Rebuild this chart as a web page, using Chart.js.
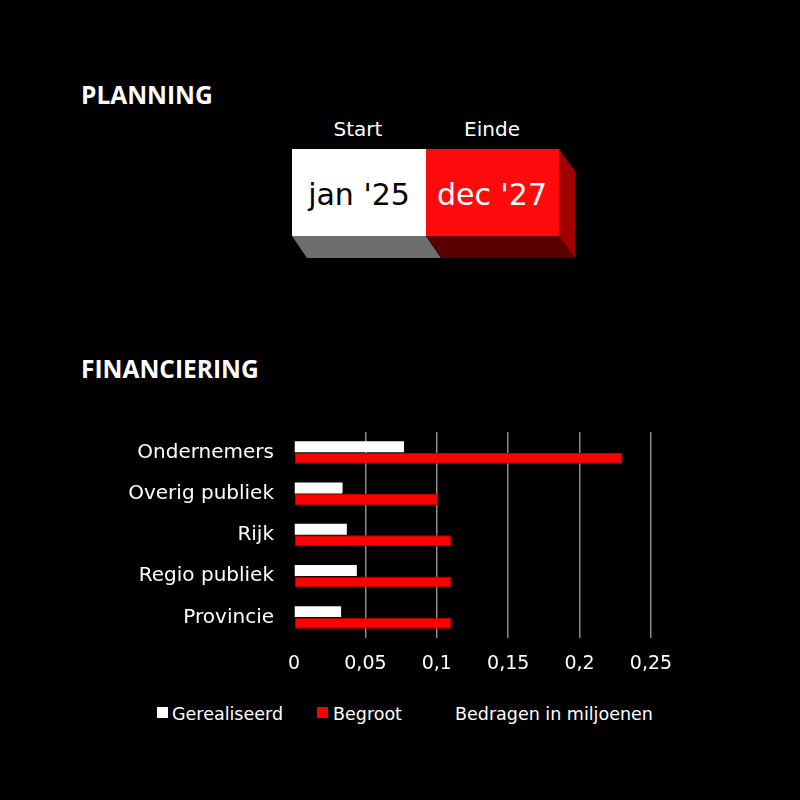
<!DOCTYPE html>
<html>
<head>
<meta charset="utf-8">
<script src="https://cdn.jsdelivr.net/npm/chart.js@4"></script>
<style>
    body { margin: 0; background: #000; }
    #page { position: relative; width: 800px; height: 800px; background: #000; overflow: hidden; }
    #deco { position: absolute; left: 0; top: 0; }
    #chartBox { position: absolute; left: 0; top: 420px; width: 800px; height: 270px; }
</style>
</head>
<body>
<div id="page">
    <svg id="deco" width="800" height="800" font-family="DejaVu Sans">
        <text x="81" y="104" fill="#fff" font-family="Open Sans" font-weight="bold" font-size="24.5">PLANNING</text>
        <text x="81" y="378" fill="#fff" font-family="Open Sans" font-weight="bold" font-size="24.5">FINANCIERING</text>

        <!-- planning block -->
        <text x="358" y="136" fill="#fff" font-size="20" text-anchor="middle">Start</text>
        <text x="492" y="136" fill="#fff" font-size="20" text-anchor="middle">Einde</text>
        <polygon points="292,236 426,236 441,258 307,258" fill="#6e6e6e"/>
        <polygon points="426,236 559,236 575,258 441,258" fill="#5a0000"/>
        <polygon points="559,149 575,171 575,258 559,236" fill="#a00000"/>
        <rect x="292" y="149" width="134" height="87" fill="#fff"/>
        <rect x="426" y="149" width="133" height="87" fill="#ff0a0a"/>
        <text x="359" y="205" fill="#000" font-size="30" text-anchor="middle">jan '25</text>
        <text x="492" y="205" fill="#fff" font-size="30" text-anchor="middle">dec '27</text>

        <!-- legend -->
        <rect x="157" y="707" width="11" height="11" fill="#fff"/>
        <text x="172" y="720" fill="#fff" font-size="17.5">Gerealiseerd</text>
        <rect x="317" y="707" width="11" height="11" fill="#f00"/>
        <text x="333" y="720" fill="#fff" font-size="17.5">Begroot</text>
        <text x="455" y="720" fill="#fff" font-size="17.5">Bedragen in miljoenen</text>
    </svg>
    <div id="chartBox"><canvas id="finChart" width="800" height="270"></canvas></div>
</div>
<script>
    const categories = ["Ondernemers", "Overig publiek", "Rijk", "Regio publiek", "Provincie"];
    const gerealiseerd = [0.077, 0.034, 0.037, 0.044, 0.033];
    const begroot = [0.23, 0.101, 0.11, 0.11, 0.11];
    const tickLabels = ["0", "0,05", "0,1", "0,15", "0,2", "0,25"];

    const ctx = document.getElementById('finChart').getContext('2d');
    new Chart(ctx, {
        type: 'bar',
        data: {
            labels: categories,
            datasets: [
                {
                    label: 'Gerealiseerd',
                    data: gerealiseerd,
                    backgroundColor: '#ffffff',
                    categoryPercentage: 0.56,
                    barPercentage: 0.95
                },
                {
                    label: 'Begroot',
                    data: begroot,
                    backgroundColor: '#ff0000',
                    borderColor: '#c00000',
                    borderWidth: 1,
                    borderSkipped: false,
                    categoryPercentage: 0.56,
                    barPercentage: 0.95
                }
            ]
        },
        options: {
            indexAxis: 'y',
            responsive: false,
            animation: false,
            layout: { padding: { top: 11, right: 149, left: 0, bottom: 0 } },
            plugins: {
                legend: { display: false },
                tooltip: { enabled: false }
            },
            scales: {
                x: {
                    min: 0,
                    max: 0.25,
                    ticks: {
                        stepSize: 0.05,
                        color: '#fff',
                        padding: 15,
                        font: { family: 'DejaVu Sans', size: 19 },
                        callback: (v, i) => tickLabels[i]
                    },
                    grid: {
                        drawTicks: false,
                        lineWidth: 1.5,
                        color: c => c.index === 0 ? 'rgba(0,0,0,0)' : '#8a8a8a'
                    },
                    border: { display: false },
                    afterFit: scale => { scale.height = 52; }
                },
                y: {
                    ticks: {
                        color: '#fff',
                        padding: 0,
                        font: { family: 'DejaVu Sans', size: 20 }
                    },
                    grid: {
                        display: true,
                        drawOnChartArea: false,
                        drawTicks: true,
                        tickLength: 20,
                        color: 'rgba(0,0,0,0)'
                    },
                    border: { display: false },
                    afterFit: scale => { scale.width = 294; }
                }
            }
        }
    });
</script>
</body>
</html>
